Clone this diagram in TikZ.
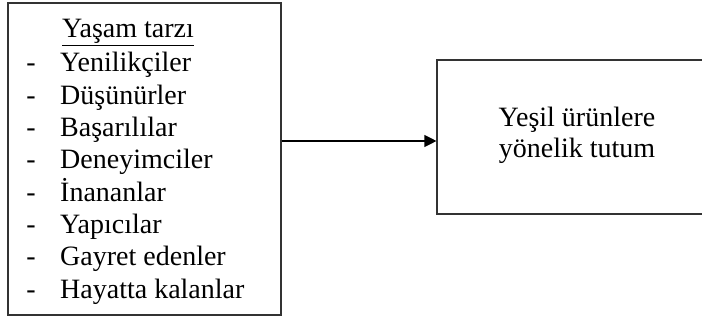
\documentclass[tikz,border=0pt]{standalone}
\usepackage{fontspec}
\setmainfont{Liberation Serif}
\usetikzlibrary{arrows.meta}
\begin{document}
\begin{tikzpicture}[x=1pt,y=-1pt,
  boxstyle/.style={draw=black!80,line width=1.1pt,inner sep=0pt},
  listtext/.style={anchor=base west,inner sep=0pt,font=\fontsize{28}{32}\selectfont},
  dashtext/.style={anchor=base,inner sep=0pt,font=\fontsize{28}{32}\selectfont},
  arrowstyle/.style={line width=1.1pt,-{Triangle[length=12pt,width=12pt]}}]
\useasboundingbox (0,0) rectangle (702,320);
\clip (0,0) rectangle (702,320);
\node[boxstyle,minimum width=273pt,minimum height=312pt] (L) at (144.5,159) {};
\node[boxstyle,minimum width=340pt,minimum height=154pt] (R) at (607,137) {};
\node[listtext] (t0) at (62,38) {\underline{Yaşam tarzı}};
\foreach \i/\w in {1/Yenilikçiler,2/Düşünürler,3/Başarılılar,4/Deneyimciler,5/İnananlar,6/Yapıcılar,7/Gayret edenler,8/Hayatta kalanlar}{
  \node[dashtext] (d\i) at (31,{72+32.3*(\i-1)}) {-};
  \node[listtext] (t\i) at (60,{72+32.3*(\i-1)}) {\w};
}
\node[anchor=base,inner sep=0pt,font=\fontsize{28}{32}\selectfont] (r1) at (577,127) {Yeşil ürünlere};
\node[anchor=base,inner sep=0pt,font=\fontsize{28}{32}\selectfont] (r2) at (577,158) {yönelik tutum};
\draw[arrowstyle] (L.east |- 0,141) -- (R.west |- 0,141);
\end{tikzpicture}
\end{document}
